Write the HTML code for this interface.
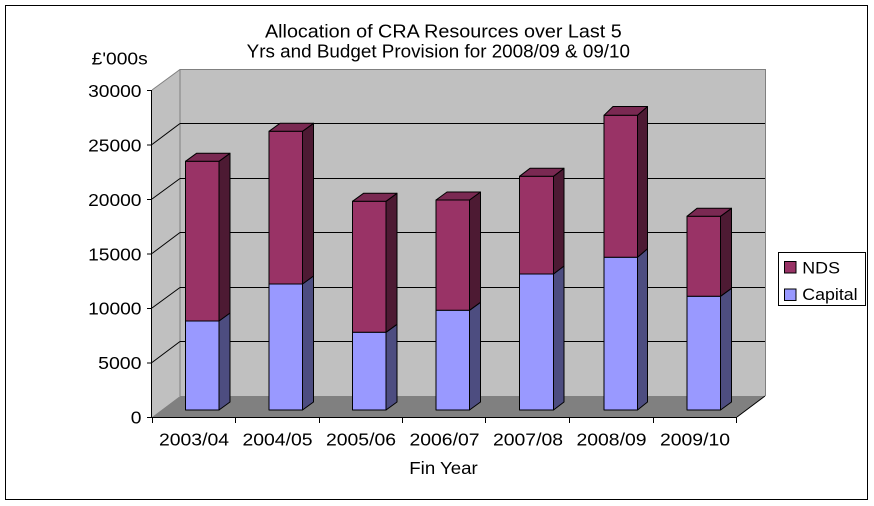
<!DOCTYPE html>
<html>
<head>
<meta charset="utf-8">
<style>
html,body{margin:0;padding:0;background:#fff;}
svg{display:block;}
text{font-family:"Liberation Sans",Arial,sans-serif;fill:#000;}
</style>
</head>
<body>
<svg width="874" height="506" viewBox="0 0 874 506" xmlns="http://www.w3.org/2000/svg">
<rect x="0" y="0" width="874" height="506" fill="#fff"/>
<rect x="5.5" y="5.5" width="862" height="494" fill="#fff" stroke="#000" stroke-width="1"/>

<!-- Title -->
<text x="265" y="37.7" font-size="18" textLength="356.7" lengthAdjust="spacingAndGlyphs">Allocation of CRA Resources over Last 5</text>
<text x="246.7" y="57.3" font-size="18" textLength="383.3" lengthAdjust="spacingAndGlyphs">Yrs and Budget Provision for 2008/09 &amp; 09/10</text>
<text x="91.7" y="64.3" font-size="17.5" textLength="56" lengthAdjust="spacingAndGlyphs">£'000s</text>

<!-- Walls and floor -->
<polygon points="152,90 180,69 180,396 152,417" fill="#c0c0c0"/>
<rect x="180" y="69" width="585" height="327" fill="#c0c0c0"/>
<polygon points="152,417 180,396 765,396 737,417" fill="#808080"/>
<!-- back wall border -->
<polyline points="180,396 180,69.5 765.5,69.5 765.5,396" fill="none" stroke="#808080" stroke-width="1"/>
<line x1="152" y1="90" x2="180" y2="69.5" stroke="#808080" stroke-width="1"/>

<!-- gridlines -->
<g stroke="#000" stroke-width="1" fill="none">
<line x1="180" y1="123.5" x2="765" y2="123.5"/>
<line x1="180" y1="178.5" x2="765" y2="178.5"/>
<line x1="180" y1="232.5" x2="765" y2="232.5"/>
<line x1="180" y1="287.5" x2="765" y2="287.5"/>
<line x1="180" y1="341.5" x2="765" y2="341.5"/>
<line x1="152" y1="144.5" x2="180" y2="123.5"/>
<line x1="152" y1="199" x2="180" y2="178.5"/>
<line x1="152" y1="253.5" x2="180" y2="232.5"/>
<line x1="152" y1="308" x2="180" y2="287.5"/>
<line x1="152" y1="362.5" x2="180" y2="341.5"/>
</g>

<!-- axes -->
<g stroke="#000" stroke-width="1" fill="none">
<line x1="151.5" y1="90" x2="151.5" y2="417"/>
<line x1="147" y1="90.5" x2="152" y2="90.5"/>
<line x1="147" y1="145" x2="152" y2="145"/>
<line x1="147" y1="199.5" x2="152" y2="199.5"/>
<line x1="147" y1="254" x2="152" y2="254"/>
<line x1="147" y1="308.5" x2="152" y2="308.5"/>
<line x1="147" y1="363" x2="152" y2="363"/>
<line x1="147" y1="417.5" x2="152" y2="417.5"/>
<line x1="152" y1="417.5" x2="737" y2="417.5"/>
<line x1="737" y1="417" x2="765" y2="396"/>
<line x1="152.5" y1="417" x2="152.5" y2="423"/>
<line x1="235.5" y1="417" x2="235.5" y2="423"/>
<line x1="319.5" y1="417" x2="319.5" y2="423"/>
<line x1="402.5" y1="417" x2="402.5" y2="423"/>
<line x1="485.5" y1="417" x2="485.5" y2="423"/>
<line x1="569.5" y1="417" x2="569.5" y2="423"/>
<line x1="653.5" y1="417" x2="653.5" y2="423"/>
<line x1="736.5" y1="417" x2="736.5" y2="423"/>
</g>

<!-- Y labels -->
<g font-size="17.5" text-anchor="end">
<text x="141.5" y="96.8" textLength="53.4" lengthAdjust="spacingAndGlyphs">30000</text>
<text x="141.5" y="151.3" textLength="53.4" lengthAdjust="spacingAndGlyphs">25000</text>
<text x="141.5" y="205.8" textLength="53.4" lengthAdjust="spacingAndGlyphs">20000</text>
<text x="141.5" y="260.3" textLength="53.4" lengthAdjust="spacingAndGlyphs">15000</text>
<text x="141.5" y="314.6" textLength="53.4" lengthAdjust="spacingAndGlyphs">10000</text>
<text x="141.5" y="369.2" textLength="43.4" lengthAdjust="spacingAndGlyphs">5000</text>
<text x="141.5" y="423.6" textLength="10.7" lengthAdjust="spacingAndGlyphs">0</text>
</g>

<!-- Category labels -->
<g font-size="17.5" text-anchor="middle">
<text x="194" y="445.6" textLength="70" lengthAdjust="spacingAndGlyphs">2003/04</text>
<text x="277.5" y="445.6" textLength="70" lengthAdjust="spacingAndGlyphs">2004/05</text>
<text x="361" y="445.6" textLength="70" lengthAdjust="spacingAndGlyphs">2005/06</text>
<text x="444.5" y="445.6" textLength="70" lengthAdjust="spacingAndGlyphs">2006/07</text>
<text x="528" y="445.6" textLength="70" lengthAdjust="spacingAndGlyphs">2007/08</text>
<text x="611.5" y="445.6" textLength="70" lengthAdjust="spacingAndGlyphs">2008/09</text>
<text x="695" y="445.6" textLength="70" lengthAdjust="spacingAndGlyphs">2009/10</text>
</g>
<text x="409.3" y="474" font-size="17.5" textLength="68.4" lengthAdjust="spacingAndGlyphs">Fin Year</text>

<!-- Bars -->
<g stroke="#000" stroke-width="1" stroke-linejoin="round">
<!-- Bar 1 -->
<polygon points="219,410 230,402 230,313 219,321" fill="#4d4d80"/>
<rect x="185.5" y="321" width="33.5" height="89" fill="#9999ff"/>
<polygon points="219,321 230,313 230,153.3 219,161.3" fill="#4d1a33"/>
<rect x="185.5" y="161.3" width="33.5" height="159.7" fill="#993366"/>
<polygon points="185.5,161.3 196.5,153.3 230,153.3 219,161.3" fill="#7a2952"/>
<!-- Bar 2 -->
<polygon points="302.5,410 313.5,402 313.5,276 302.5,284" fill="#4d4d80"/>
<rect x="269" y="284" width="33.5" height="126" fill="#9999ff"/>
<polygon points="302.5,284 313.5,276 313.5,123.3 302.5,131.3" fill="#4d1a33"/>
<rect x="269" y="131.3" width="33.5" height="152.7" fill="#993366"/>
<polygon points="269,131.3 280,123.3 313.5,123.3 302.5,131.3" fill="#7a2952"/>
<!-- Bar 3 -->
<polygon points="386,410 397,402 397,324.3 386,332.3" fill="#4d4d80"/>
<rect x="352.5" y="332.3" width="33.5" height="77.7" fill="#9999ff"/>
<polygon points="386,332.3 397,324.3 397,193.3 386,201.3" fill="#4d1a33"/>
<rect x="352.5" y="201.3" width="33.5" height="131" fill="#993366"/>
<polygon points="352.5,201.3 363.5,193.3 397,193.3 386,201.3" fill="#7a2952"/>
<!-- Bar 4 -->
<polygon points="469.5,410 480.5,402 480.5,302.3 469.5,310.3" fill="#4d4d80"/>
<rect x="436" y="310.3" width="33.5" height="99.7" fill="#9999ff"/>
<polygon points="469.5,310.3 480.5,302.3 480.5,192 469.5,200" fill="#4d1a33"/>
<rect x="436" y="200" width="33.5" height="110.3" fill="#993366"/>
<polygon points="436,200 447,192 480.5,192 469.5,200" fill="#7a2952"/>
<!-- Bar 5 -->
<polygon points="553.5,410 564,402 564,266 553.5,274" fill="#4d4d80"/>
<rect x="519.5" y="274" width="34" height="136" fill="#9999ff"/>
<polygon points="553.5,274 564,266 564,168.3 553.5,176.3" fill="#4d1a33"/>
<rect x="519.5" y="176.3" width="34" height="97.7" fill="#993366"/>
<polygon points="519.5,176.3 530,168.3 564,168.3 553.5,176.3" fill="#7a2952"/>
<!-- Bar 6 -->
<polygon points="637.5,410 647.5,402 647.5,248.8 637.5,257.3" fill="#4d4d80"/>
<rect x="604" y="257.3" width="33.5" height="152.7" fill="#9999ff"/>
<polygon points="637.5,257.3 647.5,248.8 647.5,106.5 637.5,115.3" fill="#4d1a33"/>
<rect x="604" y="115.3" width="33.5" height="142" fill="#993366"/>
<polygon points="604,115.3 613,106.5 647.5,106.5 637.5,115.3" fill="#7a2952"/>
<!-- Bar 7 -->
<polygon points="720.5,410 731.5,402 731.5,288.3 720.5,296.3" fill="#4d4d80"/>
<rect x="687" y="296.3" width="33.5" height="113.7" fill="#9999ff"/>
<polygon points="720.5,296.3 731.5,288.3 731.5,208.3 720.5,216.3" fill="#4d1a33"/>
<rect x="687" y="216.3" width="33.5" height="80" fill="#993366"/>
<polygon points="687,216.3 697,208.3 731.5,208.3 720.5,216.3" fill="#7a2952"/>
</g>

<!-- Legend -->
<rect x="778.5" y="252.5" width="87" height="53" fill="#fff" stroke="#000" stroke-width="1"/>
<rect x="784.5" y="261.5" width="11.5" height="11.5" fill="#993366" stroke="#000" stroke-width="1"/>
<rect x="784.5" y="289" width="11.5" height="11.5" fill="#9999ff" stroke="#000" stroke-width="1"/>
<text x="802.3" y="273.3" font-size="17" textLength="37.7" lengthAdjust="spacingAndGlyphs">NDS</text>
<text x="802.3" y="300" font-size="17" textLength="55.3" lengthAdjust="spacingAndGlyphs">Capital</text>
</svg>
</body>
</html>
